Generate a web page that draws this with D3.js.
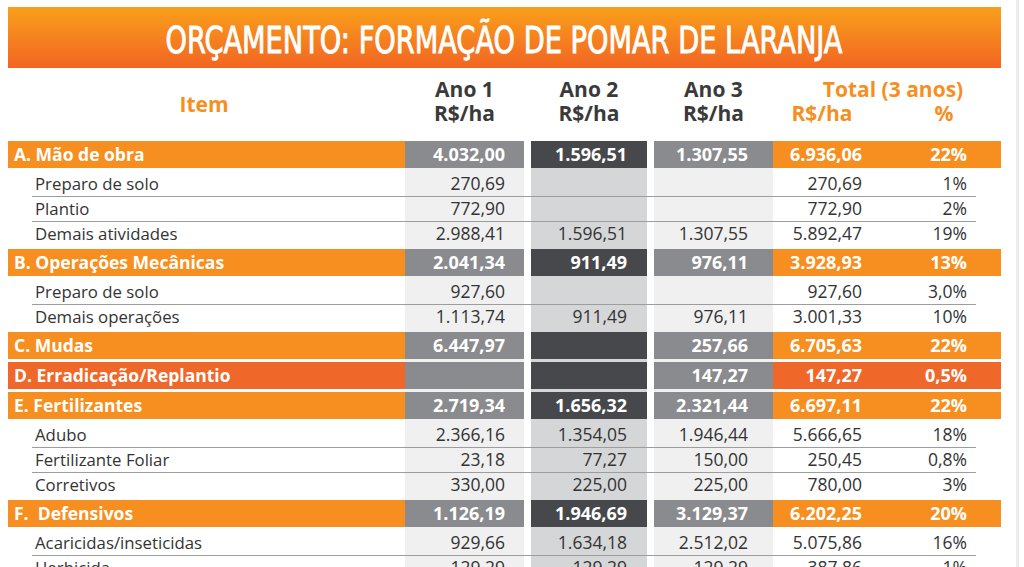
<!DOCTYPE html>
<html>
<head>
<meta charset="utf-8">
<script src="https://cdn.jsdelivr.net/npm/d3@7"></script>
<style>
  html, body { margin: 0; padding: 0; background: #ffffff; }
  svg { display: block; }
</style>
</head>
<body>
<svg id="chart" width="1024" height="567"></svg>
<script>
// ---------- DATA ----------
const title = "ORÇAMENTO: FORMAÇÃO DE POMAR DE LARANJA";
const headerItem = "Item";
const yearLabels = ["Ano 1", "Ano 2", "Ano 3"];
const unitLabel = "R$/ha";
const totalLabel = "Total (3 anos)";
const pctLabel = "%";

const rowLabels = [
  "A. Mão de obra", "Preparo de solo", "Plantio", "Demais atividades",
  "B. Operações Mecânicas", "Preparo de solo", "Demais operações",
  "C. Mudas", "D. Erradicação/Replantio",
  "E. Fertilizantes", "Adubo", "Fertilizante Foliar", "Corretivos",
  "F.  Defensivos", "Acaricidas/inseticidas", "Herbicida"
];
const rowTypes = [
  "cat", "sub", "sub", "sub",
  "cat", "sub", "sub",
  "cat", "catD",
  "cat", "sub", "sub", "sub",
  "cat", "sub", "sub"
];
const ano1 = [4032.00, 270.69, 772.90, 2988.41, 2041.34, 927.60, 1113.74, 6447.97, null, 2719.34, 2366.16, 23.18, 330.00, 1126.19, 929.66, 129.29];
const ano2 = [1596.51, null, null, 1596.51, 911.49, null, 911.49, null, null, 1656.32, 1354.05, 77.27, 225.00, 1946.69, 1634.18, 129.29];
const ano3 = [1307.55, null, null, 1307.55, 976.11, null, 976.11, 257.66, 147.27, 2321.44, 1946.44, 150.00, 225.00, 3129.37, 2512.02, 129.29];
const totals = [6936.06, 270.69, 772.90, 5892.47, 3928.93, 927.60, 3001.33, 6705.63, 147.27, 6697.11, 5666.65, 250.45, 780.00, 6202.25, 5075.86, 387.86];
const pcts = ["22%", "1%", "2%", "19%", "13%", "3,0%", "10%", "22%", "0,5%", "22%", "18%", "0,8%", "3%", "20%", "16%", "1%"];

// ---------- STYLE / LAYOUT ----------
const W = 1024, H = 567;
const ORANGE = "#f68f1f", ORANGE_D = "#f0672a";
const GRAY = "#8a8b8e", DARK = "#46484b";
const TEXT = "#333333", HEAD = "#3a3a3a";
const FONT = "'Open Sans', 'Noto Sans', sans-serif";

const locale = d3.formatLocale({decimal: ",", thousands: ".", grouping: [3], currency: ["R$", ""]});
const fmt = locale.format(",.2f");

const svg = d3.select("#chart");

// Column geometry via ordinal scales
const colKeys = ["label", "ano1", "ano2", "ano3", "total"];
const colX0 = d3.scaleOrdinal().domain(colKeys).range([8, 405, 531, 654, 773]);
const colX1 = d3.scaleOrdinal().domain(colKeys).range([405, 524, 647, 773, 1001]);
const valueRight = d3.scaleOrdinal().domain(["ano1", "ano2", "ano3", "total", "pct"]).range([505, 627, 748, 862, 967]);

// Row geometry (cumulative)
const CAT_H = 27, SUB_H = 25, GAP = 3, TOP = 141;
const rowTop = [], rowH = [];
{
  let y = TOP;
  rowTypes.forEach((t, i) => {
    const isCat = t !== "sub";
    if (i > 0) {
      const prevCat = rowTypes[i - 1] !== "sub";
      if (isCat || prevCat) y += GAP;
    }
    rowTop.push(y);
    const h = isCat ? CAT_H : SUB_H;
    rowH.push(h);
    y += h;
  });
}
const yTop = d3.scaleOrdinal().domain(d3.range(rowTypes.length)).range(rowTop);
const yH = d3.scaleOrdinal().domain(d3.range(rowTypes.length)).range(rowH);

// faint right border of page
svg.append("rect").attr("x", 1016).attr("y", 0).attr("width", 3).attr("height", H).attr("fill", "#ececec");

// ---------- TITLE ----------
const defs = svg.append("defs");
const grad = defs.append("linearGradient").attr("id", "tg").attr("x1", 0).attr("y1", 0).attr("x2", 0).attr("y2", 1);
grad.append("stop").attr("offset", "0%").attr("stop-color", "#f9a01b");
grad.append("stop").attr("offset", "100%").attr("stop-color", "#f26522");
svg.append("rect").attr("x", 8).attr("y", 7).attr("width", 993).attr("height", 61).attr("fill", "url(#tg)");
svg.append("text")
  .attr("x", 504).attr("y", 53)
  .attr("text-anchor", "middle")
  .attr("font-family", "'Liberation Sans Narrow', 'DejaVu Sans Condensed', 'Roboto', sans-serif")
  .attr("font-size", 38)
  .attr("textLength", 677).attr("lengthAdjust", "spacingAndGlyphs")
  .attr("fill", "#ffffff")
  .attr("stroke", "#ffffff").attr("stroke-width", 0.9)
  .text(title);

// ---------- HEADER ----------
const head = svg.append("g").attr("font-family", FONT).attr("font-weight", 700).attr("font-size", 21);
head.append("text").attr("x", 204).attr("y", 112).attr("text-anchor", "middle").attr("fill", ORANGE).text(headerItem);
["ano1", "ano2", "ano3"].forEach((k, i) => {
  const cx = (colX0(k) + colX1(k)) / 2;
  const t = head.append("text").attr("x", cx).attr("y", 97).attr("text-anchor", "middle").attr("fill", HEAD);
  t.append("tspan").attr("x", cx).attr("y", 97).text(yearLabels[i]);
  t.append("tspan").attr("x", cx).attr("y", 121).text(unitLabel);
});
const th = head.append("text").attr("fill", ORANGE).attr("text-anchor", "middle");
th.append("tspan").attr("x", 893).attr("y", 97).text(totalLabel);
th.append("tspan").attr("x", 822).attr("y", 121).text(unitLabel);
th.append("tspan").attr("x", 944).attr("y", 121).text(pctLabel);

// ---------- COLUMN BACKGROUNDS ----------
const colBg = {ano1: "#f0f0f0", ano2: "#d5d6d8", ano3: "#f0f0f0"};
Object.keys(colBg).forEach(k => {
  svg.append("rect")
    .attr("x", colX0(k)).attr("y", TOP)
    .attr("width", colX1(k) - colX0(k)).attr("height", H - TOP)
    .attr("fill", colBg[k]);
});

// ---------- ROWS ----------
const rows = svg.append("g").attr("font-family", FONT);
const idx = d3.range(rowTypes.length);

// separator lines between consecutive sub rows
idx.forEach(i => {
  if (rowTypes[i] === "sub" && rowTypes[i + 1] === "sub") {
    const y = yTop(i) + yH(i) + 0.5;
    rows.append("line").attr("x1", 32).attr("x2", 976).attr("y1", y).attr("y2", y)
      .attr("stroke", "#9d9d9d").attr("stroke-width", 1);
  }
});

const catFill = {label: null, ano1: GRAY, ano2: DARK, ano3: GRAY, total: null};

idx.forEach(i => {
  const t = rowTypes[i];
  const y0 = yTop(i), h = yH(i), cy = y0 + h / 2;
  const isCat = t !== "sub";
  const orange = t === "catD" ? ORANGE_D : ORANGE;
  if (isCat) {
    colKeys.forEach(k => {
      const f = catFill[k] || orange;
      rows.append("rect").attr("x", colX0(k)).attr("y", y0)
        .attr("width", colX1(k) - colX0(k)).attr("height", h).attr("fill", f);
    });
  }
  const fill = isCat ? "#ffffff" : TEXT;
  const weight = isCat ? 700 : 400;
  const fs = isCat ? 18 : 17.5;
  rows.append("text")
    .attr("x", isCat ? 14 : 35).attr("y", cy).attr("dy", "0.36em")
    .attr("font-size", isCat ? 17.5 : 16.8).attr("font-weight", weight).attr("fill", fill)
    .attr("xml:space", "preserve")
    .text(rowLabels[i]);
  const vals = {ano1: ano1[i], ano2: ano2[i], ano3: ano3[i], total: totals[i]};
  Object.keys(vals).forEach(k => {
    if (vals[k] == null) return;
    rows.append("text")
      .attr("x", valueRight(k)).attr("y", cy).attr("dy", "0.36em")
      .attr("text-anchor", "end")
      .attr("font-size", fs).attr("font-weight", weight).attr("fill", fill)
      .text(fmt(vals[k]));
  });
  rows.append("text")
    .attr("x", valueRight("pct")).attr("y", cy).attr("dy", "0.36em")
    .attr("text-anchor", "end")
    .attr("font-size", fs).attr("font-weight", weight).attr("fill", fill)
    .text(pcts[i]);
});
</script>
</body>
</html>
